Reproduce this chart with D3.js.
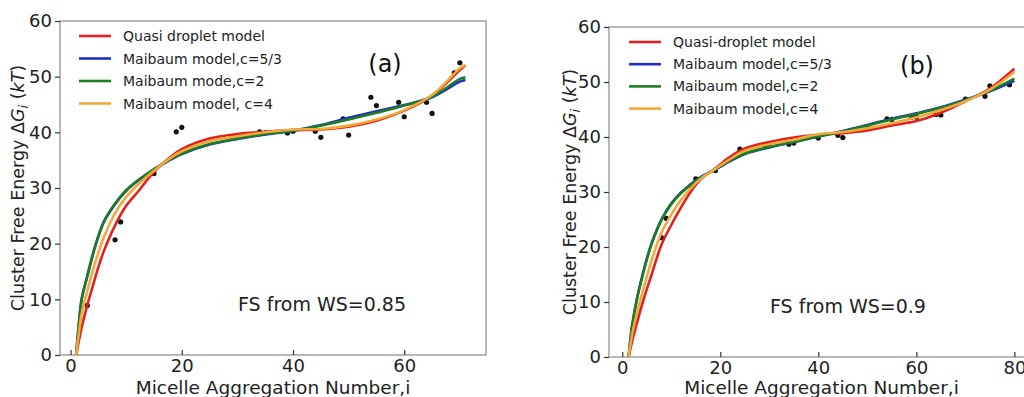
<!DOCTYPE html>
<html>
<head>
<meta charset="utf-8">
<script src="https://cdn.jsdelivr.net/npm/d3@7"></script>
<style>
  body { margin: 0; background: #fff; }
  svg { display: block; font-family: "DejaVu Sans", sans-serif; }
</style>
</head>
<body>
<svg id="chart" width="1024" height="397"></svg>
<script>
// --- panel (a): FS from WS=0.85
var leftI      = [1, 1.5, 2, 3, 4, 5, 6, 8, 10, 12, 15, 18, 20, 25, 30, 35, 40, 45, 50, 55, 60, 65, 70, 71];
var leftQuasi  = [0, 2.6, 5.0, 8.9, 12.4, 15.8, 18.7, 23.3, 26.8, 29.2, 32.9, 35.6, 37.0, 38.9, 39.7, 40.1, 40.4, 40.5, 41.0, 42.1, 43.9, 46.6, 51.2, 52.0];
var leftM53    = [0, 5.6, 10.0, 14.1, 18.0, 21.3, 23.9, 27.1, 29.5, 31.2, 33.3, 35.1, 36.1, 37.8, 38.8, 39.6, 40.3, 41.3, 42.6, 43.8, 44.9, 46.3, 49.1, 49.4];
var leftM2     = [0, 5.7, 10.1, 14.2, 18.1, 21.4, 24.0, 27.2, 29.6, 31.3, 33.4, 35.2, 36.2, 37.9, 38.9, 39.7, 40.3, 41.2, 42.3, 43.5, 44.8, 46.4, 49.6, 49.9];
var leftM4     = [0, 4.0, 7.5, 11.5, 15.2, 18.4, 21.2, 25.5, 28.4, 30.5, 33.1, 35.4, 36.6, 38.4, 39.3, 40.0, 40.5, 40.6, 41.2, 42.3, 44.0, 46.7, 51.5, 52.1];
var leftPtsI   = [3, 8, 9, 14, 15, 19, 20, 29, 30, 34, 35, 39, 40, 44, 45, 49, 50, 54, 55, 59, 60, 64, 65, 69, 70];
var leftPtsV   = [8.9, 20.7, 23.9, 32.3, 32.6, 40.1, 40.9, 39.2, 39.2, 40.1, 39.9, 39.9, 40.2, 40.2, 39.1, 42.4, 39.5, 46.3, 44.8, 45.4, 42.8, 45.4, 43.4, 50.7, 52.5];
var leftLegend = ["Quasi droplet model", "Maibaum model,c=5/3", "Maibaum mode,c=2", "Maibaum model, c=4"];

// --- panel (b): FS from WS=0.9
var rightI      = [1.3, 2, 3, 4, 5, 6, 8, 10, 12, 14, 16, 19, 22, 25, 30, 35, 40, 45, 50, 55, 60, 65, 70, 75, 80];
var rightQuasi  = [0, 2.8, 6.2, 9.4, 12.3, 15.0, 20.4, 24.0, 27.2, 30.1, 32.3, 34.3, 36.4, 37.9, 39.1, 39.9, 40.4, 40.7, 41.2, 42.1, 42.9, 44.4, 46.5, 48.8, 52.4];
var rightM53    = [0, 5.6, 10.6, 14.4, 17.8, 20.7, 25.0, 27.9, 29.9, 31.4, 32.7, 34.1, 35.6, 36.9, 38.1, 39.1, 40.1, 41.1, 42.2, 43.3, 44.3, 45.4, 46.8, 48.3, 50.2];
var rightM2     = [0, 5.5, 10.5, 14.3, 17.7, 20.6, 24.9, 27.8, 29.8, 31.3, 32.6, 34.1, 35.7, 37.0, 38.2, 39.1, 40.1, 41.0, 42.1, 43.2, 44.2, 45.3, 46.7, 48.4, 50.6];
var rightM4     = [0, 4.0, 8.0, 11.4, 14.6, 17.6, 22.6, 25.9, 28.6, 30.7, 32.4, 34.2, 36.0, 37.5, 38.7, 39.5, 40.5, 40.9, 41.6, 42.5, 43.6, 44.9, 46.5, 48.6, 51.8];
var rightPtsI   = [8, 9, 14, 15, 19, 24, 29, 30, 34, 35, 39, 40, 44, 45, 50, 54, 55, 59, 60, 64, 65, 70, 74, 75, 79];
var rightPtsV   = [21.7, 25.2, 31.1, 32.4, 33.9, 37.8, 38.4, 38.7, 38.7, 38.9, 40.1, 39.8, 40.3, 39.9, 41.8, 43.3, 43.2, 43.6, 43.6, 44.1, 44.0, 46.9, 47.4, 49.3, 49.5];
var rightLegend = ["Quasi-droplet model", "Maibaum model,c=5/3", "Maibaum model,c=2", "Maibaum model,c=4"];

var xTicksLeft  = [0, 20, 40, 60];
var xTicksRight = [0, 20, 40, 60, 80];
var yTicks      = [0, 10, 20, 30, 40, 50, 60];

var colors = ["#e3201b", "#1f2fc4", "#1d7d24", "#f2a93b"];

var svg = d3.select("#chart");

function drawPanel(p) {
  var x = d3.scaleLinear().domain(p.xDomain).range([p.left, p.right]);
  var y = d3.scaleLinear().domain([0, 60]).range([p.bottom, p.top]);
  var g = svg.append("g");

  // frame
  g.append("rect")
    .attr("x", p.left).attr("y", p.top)
    .attr("width", p.right - p.left).attr("height", p.bottom - p.top)
    .attr("fill", "none").attr("stroke", "#9a9a9a").attr("stroke-width", 1.4);

  var ya = g.append("g").attr("transform", "translate(" + p.left + ",0)")
    .call(d3.axisLeft(y).tickValues(yTicks).tickSize(5).tickPadding(3).tickSizeOuter(0));
  var xa = g.append("g").attr("transform", "translate(0," + p.bottom + ")")
    .call(d3.axisBottom(x).tickValues(p.xTicks).tickSize(-5).tickPadding(4).tickSizeOuter(0));
  [ya, xa].forEach(function(a) {
    a.select(".domain").remove();
    a.selectAll(".tick line").attr("stroke", "#333").attr("stroke-width", 1.2);
    a.selectAll(".tick text").attr("font-size", 18).attr("fill", "#222")
      .attr("font-family", "DejaVu Sans, sans-serif");
  });

  // scatter (under the curves)
  g.selectAll("circle.pt").data(p.ptsI).enter().append("circle")
    .attr("class", "pt")
    .attr("cx", function(d) { return x(d); })
    .attr("cy", function(d, i) { return y(p.ptsV[i]); })
    .attr("r", 2.6).attr("fill", "#111");

  var line = d3.line()
    .x(function(d) { return x(d[0]); })
    .y(function(d) { return y(d[1]); })
    .curve(d3.curveCatmullRom.alpha(0.5));

  p.series.forEach(function(s, k) {
    g.append("path")
      .datum(p.xs.map(function(v, i) { return [v, s[i]]; }))
      .attr("d", line)
      .attr("fill", "none").attr("stroke", colors[k]).attr("stroke-width", 2.6);
  });

  // legend
  p.legend.forEach(function(name, k) {
    var ly = p.legY + k * p.legStep;
    g.append("line")
      .attr("x1", p.legX).attr("x2", p.legX + 32)
      .attr("y1", ly).attr("y2", ly)
      .attr("stroke", colors[k]).attr("stroke-width", 2.6);
    g.append("text")
      .attr("x", p.legX + 44).attr("y", ly + 5)
      .attr("font-size", 14).attr("fill", "#222").text(name);
  });

  g.append("text").attr("x", p.tagX).attr("y", p.tagY)
    .attr("text-anchor", "middle").attr("font-size", 24).attr("fill", "#111").text(p.tag);

  g.append("text").attr("x", p.noteX).attr("y", p.noteY)
    .attr("font-size", 19).attr("fill", "#222").text(p.note);

  // axis titles
  g.append("text")
    .attr("x", (p.left + p.right) / 2).attr("y", 394)
    .attr("text-anchor", "middle").attr("font-size", 18.5).attr("fill", "#222")
    .text("Micelle Aggregation Number,i");

  var yl = g.append("text")
    .attr("transform", "translate(" + p.yLabX + "," + ((p.top + p.bottom) / 2) + ") rotate(-90)")
    .attr("text-anchor", "middle").attr("font-size", 17.5).attr("fill", "#222");
  yl.append("tspan").text("Cluster Free Energy \u0394");
  yl.append("tspan").attr("font-style", "italic").text("G");
  yl.append("tspan").attr("font-style", "italic").attr("font-size", 13).attr("dy", 4).text("i");
  yl.append("tspan").attr("dy", -4).text(" (");
  yl.append("tspan").attr("font-style", "italic").text("kT");
  yl.append("tspan").text(")");
}

drawPanel({
  left: 60, right: 486, top: 21, bottom: 355, xDomain: [-1.9, 74.7], xTicks: xTicksLeft,
  xs: leftI, series: [leftQuasi, leftM53, leftM2, leftM4],
  ptsI: leftPtsI, ptsV: leftPtsV, legend: leftLegend,
  legX: 79, legY: 36, legStep: 22.5,
  tag: "(a)", tagX: 385, tagY: 72, note: "FS from WS=0.85", noteX: 238, noteY: 311, yLabX: 24
});

drawPanel({
  left: 609, right: 1034, top: 27, bottom: 357, xDomain: [-2.7, 84], xTicks: xTicksRight,
  xs: rightI, series: [rightQuasi, rightM53, rightM2, rightM4],
  ptsI: rightPtsI, ptsV: rightPtsV, legend: rightLegend,
  legX: 629, legY: 42, legStep: 22.2,
  tag: "(b)", tagX: 917, tagY: 74, note: "FS from WS=0.9", noteX: 770, noteY: 313, yLabX: 576
});
</script>
</body>
</html>
